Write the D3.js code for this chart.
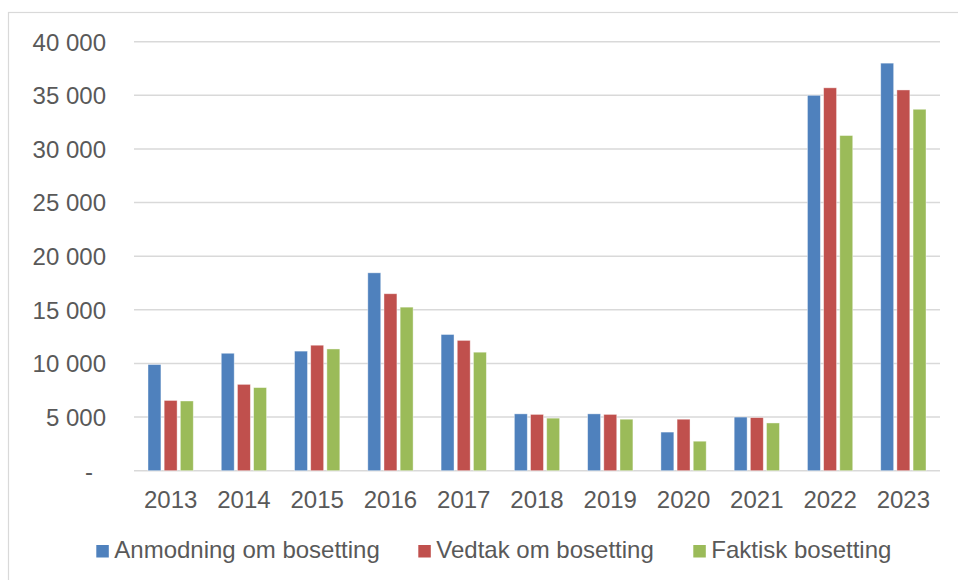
<!DOCTYPE html>
<html>
<head>
<meta charset="utf-8">
<script src="https://cdn.jsdelivr.net/npm/d3@7"></script>
<style>
  body { margin: 0; background: #fff; }
  text { font-family: "Liberation Sans", Arial, sans-serif; fill: #595959; }
</style>
</head>
<body>
<div id="chart"></div>
<script>
var years = ["2013", "2014", "2015", "2016", "2017", "2018", "2019", "2020", "2021", "2022", "2023"];
var seriesNames = ["Anmodning om bosetting", "Vedtak om bosetting", "Faktisk bosetting"];
var anmodning = [9900, 10950, 11150, 18450, 12700, 5300, 5300, 3600, 5000, 35000, 38000];
var vedtak = [6550, 8050, 11700, 16500, 12150, 5250, 5250, 4800, 4950, 35700, 35500];
var faktisk = [6500, 7750, 11350, 15250, 11050, 4900, 4800, 2750, 4450, 31250, 33700];
var yTicks = [0, 5000, 10000, 15000, 20000, 25000, 30000, 35000, 40000];
var colors = ["#4f81bd", "#c0504d", "#9bbb59"];

var w = 958, h = 580;
var values = [anmodning, vedtak, faktisk];

var svg = d3.select("#chart").append("svg")
    .attr("width", w)
    .attr("height", h);

// outer chart border
svg.append("rect")
    .attr("x", 8.5).attr("y", 12.5)
    .attr("width", w + 20).attr("height", h + 20)
    .attr("fill", "none")
    .attr("stroke", "#d9d9d9")
    .attr("stroke-width", 1.2);

var x0 = d3.scaleBand().domain(years).range([134, 940]).paddingInner(0.382).paddingOuter(0.191);
var x1 = d3.scaleBand().domain(d3.range(3)).range([0, x0.bandwidth()]).paddingInner(0.2);
var y = d3.scaleLinear().domain([0, 40000]).range([470.7, 41.7]);

// gridlines
svg.append("g")
    .selectAll("line")
    .data(yTicks)
    .enter()
    .append("line")
    .attr("x1", 134).attr("x2", 940)
    .attr("y1", function(d){ return y(d); })
    .attr("y2", function(d){ return y(d); })
    .attr("stroke", "#d9d9d9")
    .attr("stroke-width", 1.5);

// y axis labels
var yAxis = d3.axisLeft(y)
    .tickValues(yTicks)
    .tickSize(0)
    .tickPadding(0)
    .tickFormat(function(d){
        return d === 0 ? "-" : d3.format(",")(d).replace(/,/g, " ");
    });
var gy = svg.append("g")
    .attr("transform", "translate(106,0)")
    .call(yAxis);
gy.select(".domain").remove();
gy.selectAll("text")
    .attr("font-size", 24)
    .attr("font-family", "'Liberation Sans', Arial, sans-serif")
    .attr("fill", "#595959")
    .attr("x", function(d){ return d === 0 ? -13 : 0; })
    .attr("dy", "0.35em");

// bars
var groups = svg.append("g")
    .selectAll("g")
    .data(years)
    .enter()
    .append("g")
    .attr("transform", function(d){ return "translate(" + x0(d) + ",0)"; });

groups.selectAll("rect")
    .data(function(d, i){ return values.map(function(s, k){ return {k: k, v: s[i]}; }); })
    .enter()
    .append("rect")
    .attr("x", function(d){ return x1(d.k); })
    .attr("y", function(d){ return y(d.v); })
    .attr("width", x1.bandwidth())
    .attr("height", function(d){ return y(0) - y(d.v); })
    .attr("fill", function(d){ return colors[d.k]; })
    .attr("stroke", "#ffffff")
    .attr("stroke-opacity", 0.5)
    .attr("stroke-width", 0.8);

// x labels
svg.append("g")
    .selectAll("text")
    .data(years)
    .enter()
    .append("text")
    .attr("x", function(d){ return x0(d) + x0.bandwidth() / 2; })
    .attr("y", 508.3)
    .attr("text-anchor", "middle")
    .attr("font-size", 24)
    .text(function(d){ return d; });

// legend
var legendX = [96.3, 418.3, 693.3];
var legend = svg.append("g")
    .selectAll("g")
    .data(seriesNames)
    .enter()
    .append("g")
    .attr("transform", function(d, i){ return "translate(" + legendX[i] + ",545)"; });

legend.append("rect")
    .attr("width", 12.5).attr("height", 12.5)
    .attr("fill", function(d, i){ return colors[i]; });

legend.append("text")
    .attr("x", 18)
    .attr("y", 13.3)
    .attr("font-size", 24)
    .text(function(d){ return d; });
</script>
</body>
</html>
